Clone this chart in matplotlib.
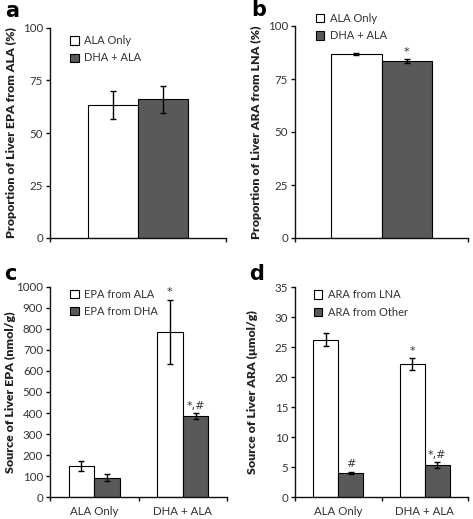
import matplotlib.pyplot as plt
from matplotlib.patches import Patch

# data
groups = ["ALA Only", "DHA + ALA"]

# panel a: proportion of liver EPA from ALA (%)
a_means = [63.5, 66.0]
a_errs = [6.7, 6.3]

# panel b: proportion of liver ARA from LNA (%)
b_means = [86.8, 83.5]
b_errs = [0.4, 1.0]
b_marks = ["", "*"]

# panel c: source of liver EPA (nmol/g)
c_from_ala = [148, 787]
c_from_ala_err = [23, 152]
c_from_dha = [94, 385]
c_from_dha_err = [15, 14]
c_marks_ala = ["", "*"]
c_marks_dha = ["", "*,#"]

# panel d: source of liver ARA (umol/g)
d_from_lna = [26.3, 22.2]
d_from_lna_err = [1.05, 1.0]
d_from_other = [4.1, 5.4]
d_from_other_err = [0.2, 0.45]
d_marks_lna = ["", "*"]
d_marks_other = ["#", "*,#"]

WHITE = "white"
DARK = "#595959"
TXT = "#333333"
W, H = 473, 519

plt.rcParams["font.family"] = ["Lato", "DejaVu Sans"]
plt.rcParams["font.size"] = 8

fig = plt.figure(figsize=(W / 100, H / 100), dpi=100)


def make_axes(left, right, top, bottom):
    return fig.add_axes([left / W, 1 - bottom / H, (right - left) / W, (bottom - top) / H])


def style(ax, ylim, step, ylabel, xlab_x):
    ax.set_ylim(*ylim)
    ax.set_yticks(range(ylim[0], ylim[1] + 1, step))
    for s in ["top", "right"]:
        ax.spines[s].set_visible(False)
    for s in ["left", "bottom"]:
        ax.spines[s].set_linewidth(1.0)
        ax.spines[s].set_color("#111111")
    ax.tick_params(axis="y", direction="out", length=3, width=1, colors="#111111",
                   labelcolor=TXT, labelsize=8.3, pad=2)
    ax.tick_params(axis="x", which="major", direction="out", length=3, width=1,
                   colors="#111111")
    ax.set_ylabel(ylabel, fontsize=8.9, fontweight="heavy", color="#222222")
    ax.yaxis.set_label_coords(xlab_x, 0.5)


def legend(ax, labels, x, y):
    handles = [Patch(facecolor=WHITE, edgecolor="black", linewidth=0.8),
               Patch(facecolor=DARK, edgecolor="black", linewidth=0.8)]
    ax.legend(handles, labels, loc="upper left", bbox_to_anchor=(x, y), frameon=False,
              borderaxespad=0, borderpad=0, handlelength=0.75, handleheight=0.75,
              handletextpad=0.5, labelspacing=0.55, fontsize=8, labelcolor=TXT)


def mark(ax, x, y, t):
    ax.text(x, y, t, ha="center", va="bottom", color=TXT, fontsize=8,
            family="DejaVu Sans")


ekw = dict(ecolor="black", elinewidth=1, capsize=2.5, capthick=1)
bw = 0.29

# ---- panel a ----
ax = make_axes(50, 226, 28, 238)
ax.set_xlim(0, 1)
ax.bar(0.5 - 0.142, a_means[0], 0.284, yerr=a_errs[0], color=WHITE, edgecolor="black",
       linewidth=0.8, error_kw=ekw)
ax.bar(0.5 + 0.142, a_means[1], 0.284, yerr=a_errs[1], color=DARK, edgecolor="black",
       linewidth=0.8, error_kw=ekw)
ax.set_xticks([0, 1])
ax.set_xticklabels([])
style(ax, (0, 100), 25, "Proportion of Liver EPA from ALA (%)", -0.19)
legend(ax, groups, 0.115, 0.965)
fig.text(5 / W, 1 - 11 / H, "a", fontsize=15, fontweight="bold", va="center",
         family="DejaVu Sans")

# ---- panel b ----
ax = make_axes(295, 468, 26, 238)
ax.set_xlim(0, 1)
ax.bar(0.5 - 0.145, b_means[0], 0.29, yerr=b_errs[0], color=WHITE, edgecolor="black",
       linewidth=0.8, error_kw=ekw)
ax.bar(0.5 + 0.145, b_means[1], 0.29, yerr=b_errs[1], color=DARK, edgecolor="black",
       linewidth=0.8, error_kw=ekw)
for xo, m, e, t in zip([-0.145, 0.145], b_means, b_errs, b_marks):
    if t:
        mark(ax, 0.5 + xo, m + e + 1.0, t)
ax.set_xticks([0, 1])
ax.set_xticklabels([])
style(ax, (0, 100), 25, "Proportion of Liver ARA from LNA (%)", -0.19)
legend(ax, groups, 0.12, 1.06)
fig.text(251 / W, 1 - 10 / H, "b", fontsize=15, fontweight="bold", va="center",
         family="DejaVu Sans")


def grouped(ax, white_vals, white_err, dark_vals, dark_err, white_marks, dark_marks, off):
    xs = range(len(groups))
    ax.set_xlim(-0.5, len(groups) - 0.5)
    ax.bar([x - bw / 2 for x in xs], white_vals, bw, yerr=white_err, color=WHITE,
           edgecolor="black", linewidth=0.8, error_kw=ekw)
    ax.bar([x + bw / 2 for x in xs], dark_vals, bw, yerr=dark_err, color=DARK,
           edgecolor="black", linewidth=0.8, error_kw=ekw)
    for x, m, e, t in zip(xs, white_vals, white_err, white_marks):
        if t:
            mark(ax, x - bw / 2, m + e + off, t)
    for x, m, e, t in zip(xs, dark_vals, dark_err, dark_marks):
        if t:
            mark(ax, x + bw / 2, m + e + off, t)
    ax.set_xticks([-0.5, 0.5, 1.5])
    ax.set_xticklabels([])
    ax.set_xticks(list(xs), minor=True)
    ax.set_xticklabels(groups, minor=True)
    ax.tick_params(axis="x", which="minor", length=0, pad=6, labelsize=8.3, labelcolor=TXT)


# ---- panel c ----
ax = make_axes(50, 227, 286.7, 497.3)
grouped(ax, c_from_ala, c_from_ala_err, c_from_dha, c_from_dha_err,
        c_marks_ala, c_marks_dha, 10)
style(ax, (0, 1000), 100, "Source of Liver EPA (nmol/g)", -0.19)
legend(ax, ["EPA from ALA", "EPA from DHA"], 0.115, 0.99)
fig.text(4 / W, 1 - 274 / H, "c", fontsize=15, fontweight="bold", va="center",
         family="DejaVu Sans")

# ---- panel d ----
ax = make_axes(295, 468, 287.3, 497.3)
grouped(ax, d_from_lna, d_from_lna_err, d_from_other, d_from_other_err,
        d_marks_lna, d_marks_other, 0.35)
style(ax, (0, 35), 5, "Source of Liver ARA (\u03bcmol/g)", -0.215)
legend(ax, ["ARA from LNA", "ARA from Other"], 0.11, 0.99)
fig.text(249 / W, 1 - 274 / H, "d", fontsize=15, fontweight="bold", va="center",
         family="DejaVu Sans")

fig.savefig("out.png", dpi=100)
